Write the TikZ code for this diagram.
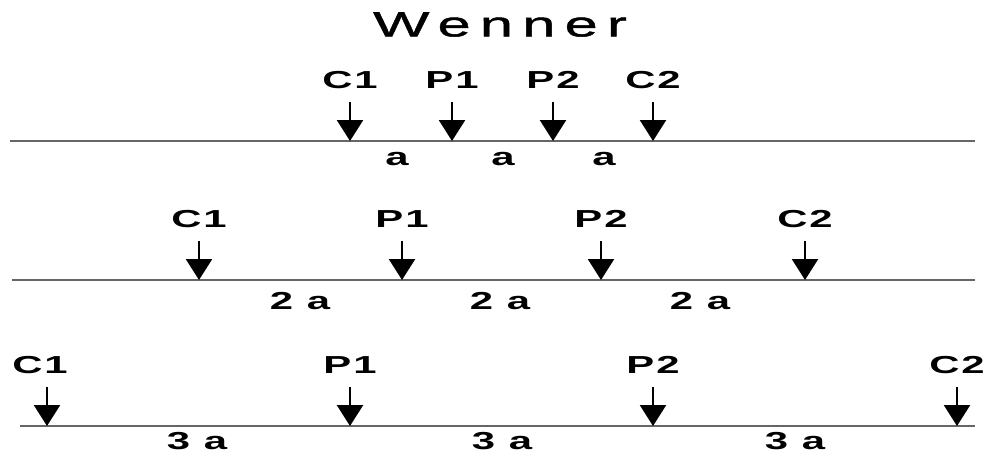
\documentclass[tikz,border=0pt]{standalone}
\usepackage{fontspec}
\setmainfont{Liberation Sans}
\newfontfamily\titlefont[FakeStretch=1.7,LetterSpace=26,FakeBold=1.3]{Liberation Sans}
\newfontfamily\probefont[FakeStretch=1.7,LetterSpace=8]{Liberation Sans}
\usepackage{tikz}
\usetikzlibrary{arrows.meta, positioning}

\begin{document}
\begin{tikzpicture}[
    node distance=0.78cm,
    elec/.style={
        font=\probefont\bfseries\fontsize{14}{16}\selectfont,
        inner xsep=0pt,
        inner ysep=0.26cm
    },
    spacing/.style={
        font=\probefont\bfseries\fontsize{14}{16}\selectfont,
        inner sep=0pt
    },
    ground/.style={
        line width=1.6pt,
        draw=black!60
    },
    probe/.style={
        -{Triangle[width=0.52cm,length=0.42cm]},
        line width=1.4pt
    }
]
\useasboundingbox (0,0) rectangle (19.92,9.14);

% Title
\node[font=\titlefont\fontsize{20}{23}\selectfont, inner sep=0pt] (title) at (10.0,8.65) {Wenner};

% Row 1: spacing a
\coordinate (g1w) at (0.2,6.32);
\coordinate (g1e) at (19.5,6.32);
\draw[ground] (g1w) -- (g1e);

\coordinate (r1c1) at (7.0,6.32);
\coordinate (r1p1) at (9.04,6.32);
\coordinate (r1p2) at (11.06,6.32);
\coordinate (r1c2) at (13.06,6.32);

\node[elec, above=of r1c1] (l1c1) {C1};
\node[elec, above=of r1p1] (l1p1) {P1};
\node[elec, above=of r1p2] (l1p2) {P2};
\node[elec, above=of r1c2] (l1c2) {C2};

\draw[probe] (l1c1) -- (r1c1);
\draw[probe] (l1p1) -- (r1p1);
\draw[probe] (l1p2) -- (r1p2);
\draw[probe] (l1c2) -- (r1c2);

\node[spacing] (s1a) at (7.94,5.96) {a};
\node[spacing] (s1b) at (10.06,5.96) {a};
\node[spacing] (s1c) at (12.08,5.96) {a};

% Row 2: spacing 2a
\coordinate (g2w) at (0.24,3.54);
\coordinate (g2e) at (19.5,3.54);
\draw[ground] (g2w) -- (g2e);

\coordinate (r2c1) at (3.98,3.54);
\coordinate (r2p1) at (8.04,3.54);
\coordinate (r2p2) at (12.02,3.54);
\coordinate (r2c2) at (16.1,3.54);

\node[elec, above=of r2c1] (l2c1) {C1};
\node[elec, above=of r2p1] (l2p1) {P1};
\node[elec, above=of r2p2] (l2p2) {P2};
\node[elec, above=of r2c2] (l2c2) {C2};

\draw[probe] (l2c1) -- (r2c1);
\draw[probe] (l2p1) -- (r2p1);
\draw[probe] (l2p2) -- (r2p2);
\draw[probe] (l2c2) -- (r2c2);

\node[spacing] (s2a) at (6.0,3.12) {2 a};
\node[spacing] (s2b) at (10.0,3.12) {2 a};
\node[spacing] (s2c) at (14.0,3.12) {2 a};

% Row 3: spacing 3a
\coordinate (g3w) at (0.4,0.62);
\coordinate (g3e) at (19.5,0.62);
\draw[ground] (g3w) -- (g3e);

\coordinate (r3c1) at (0.94,0.62);
\coordinate (r3p1) at (7.0,0.62);
\coordinate (r3p2) at (13.06,0.62);
\coordinate (r3c2) at (19.14,0.62);

\node[elec, above=of r3c1, xshift=-0.14cm] (l3c1) {C1};
\node[elec, above=of r3p1] (l3p1) {P1};
\node[elec, above=of r3p2] (l3p2) {P2};
\node[elec, above=of r3c2] (l3c2) {C2};

\draw[probe] (l3c1.south -| r3c1) -- (r3c1);
\draw[probe] (l3p1) -- (r3p1);
\draw[probe] (l3p2) -- (r3p2);
\draw[probe] (l3c2) -- (r3c2);

\node[spacing] (s3a) at (3.94,0.32) {3 a};
\node[spacing] (s3b) at (10.04,0.32) {3 a};
\node[spacing] (s3c) at (15.9,0.32) {3 a};

\end{tikzpicture}
\end{document}
